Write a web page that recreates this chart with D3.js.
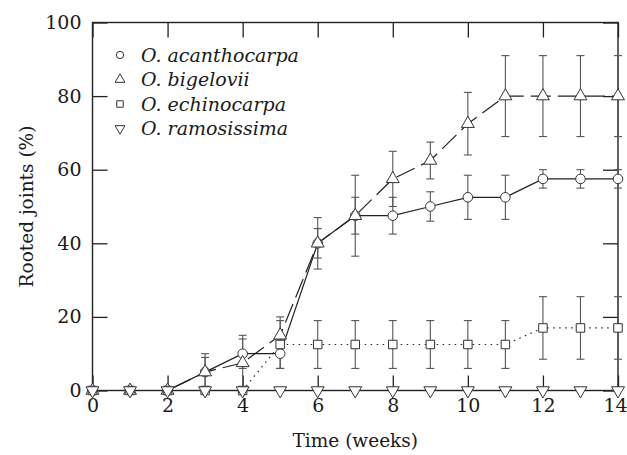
<!DOCTYPE html>
<html>
<head>
<meta charset="utf-8">
<script src="https://cdn.jsdelivr.net/npm/d3@7"></script>
<style>
  body { margin: 0; background: #fff; }
  text { font-family: "DejaVu Serif", serif; fill: #1a1a1a; }
</style>
</head>
<body>
<svg id="drawing_region"></svg>
<script>
// weeks after planting
const weeks = [0,1,2,3,4,5,6,7,8,9,10,11,12,13,14];

const species = ['O. acanthocarpa', 'O. bigelovii', 'O. echinocarpa', 'O. ramosissima'];

// mean rooted joints (%)
const acanthocarpa = [0,0,0,5,10,10,40,47.5,47.5,50,52.5,52.5,57.5,57.5,57.5];
const bigelovii    = [0,0,0,5,7.5,15,40,47.5,57.5,62.5,72.5,80,80,80,80];
const echinocarpa  = [0,0,0,0,0,12.5,12.5,12.5,12.5,12.5,12.5,12.5,17,17,17];
const ramosissima  = [0,0,0,0,0,0,0,0,0,0,0,0,0,0,0];

// half-length of error bars
const acanthocarpa_err = [0,0,0,5,4,4,4,5,5,4,6,6,2.5,2.5,2.5];
const bigelovii_err    = [0,0,0,4,7.5,5,7,11,7.5,5,8.5,11,11,11,11];
const echinocarpa_err  = [0,0,0,0,0,6.5,6.5,6.5,6.5,6.5,6.5,6.5,8.5,8.5,8.5];
const ramosissima_err  = [0,0,0,0,0,0,0,0,0,0,0,0,0,0,0];

const xticks = [0,2,4,6,8,10,12,14];
const yticks = [0,20,40,60,80,100];

class RootPlot {

    constructor( config, series ) {
        this.config = config;
        this.series = series;
        this.init();
    }

    init() {
        let self = this;

        self.svg = d3.select( self.config.parent )
            .attr('width', self.config.width)
            .attr('height', self.config.height);

        self.chart = self.svg.append('g')
            .attr('transform', `translate(${self.config.margin.left}, ${self.config.margin.top})`);

        self.inner_width = self.config.width - self.config.margin.left - self.config.margin.right;
        self.inner_height = self.config.height - self.config.margin.top - self.config.margin.bottom;

        self.xscale = d3.scaleLinear()
            .domain([0, 14])
            .range([0, self.inner_width]);

        self.yscale = d3.scaleLinear()
            .domain([0, 100])
            .range([self.inner_height, 0]);

        const tick = 15;

        // bottom / left with labels, top / right ticks only (all pointing in)
        self.xaxis_group = self.chart.append('g')
            .attr('class', 'axis')
            .attr('transform', `translate(0, ${self.inner_height})`)
            .call( d3.axisBottom(self.xscale).tickValues(xticks).tickSizeInner(-tick).tickSizeOuter(0).tickPadding(8) );

        self.chart.append('g')
            .attr('class', 'axis')
            .call( d3.axisLeft(self.yscale).tickValues(yticks).tickSizeInner(-tick).tickSizeOuter(0).tickPadding(11) );

        self.chart.append('g')
            .attr('class', 'axis notext')
            .call( d3.axisTop(self.xscale).tickValues(xticks).tickSizeInner(-tick).tickSizeOuter(0) );

        self.chart.append('g')
            .attr('class', 'axis notext')
            .attr('transform', `translate(${self.inner_width}, 0)`)
            .call( d3.axisRight(self.yscale).tickValues(yticks).tickSizeInner(-tick).tickSizeOuter(0) );

        self.chart.selectAll('.axis .domain').remove();
        self.chart.selectAll('.axis line').attr('stroke', '#222').attr('stroke-width', 1.3);
        self.chart.selectAll('.axis text')
            .style('font-family', '"DejaVu Serif", serif')
            .style('font-size', '19px')
            .attr('fill', '#1a1a1a');
        self.chart.selectAll('.notext text').remove();

        // last x label sits right at the page edge; nudge it in
        self.xaxis_group.selectAll('.tick text')
            .filter( d => d === 14 )
            .attr('dx', -3);

        self.chart.append('rect')
            .attr('width', self.inner_width)
            .attr('height', self.inner_height)
            .attr('fill', 'none')
            .attr('stroke', '#222')
            .attr('stroke-width', 1.4);

        // X label
        self.svg.append('text')
            .attr('text-anchor', 'middle')
            .attr('x', self.config.margin.left + self.inner_width / 2)
            .attr('y', self.config.height - 8)
            .text(self.config.xlabel)
            .style('font-size', '18.5px');

        // Y label
        self.svg.append('text')
            .attr('text-anchor', 'middle')
            .attr('transform', `rotate(-90)`)
            .attr('x', -self.config.margin.top - self.inner_height / 2)
            .attr('y', 33)
            .text(self.config.ylabel)
            .style('font-size', '18.5px');
    }

    symbolPath( type ) {
        return d3.symbol().type(type).size(72)();
    }

    render() {
        let self = this;

        const line = d3.line()
            .x( (d, i) => self.xscale(weeks[i]) )
            .y( d => self.yscale(d) );

        // error bars
        self.series.forEach( s => {
            const g = self.chart.append('g').attr('stroke', '#555').attr('stroke-width', 1.1);
            const pts = s.values.map( (v, i) => ({ x: weeks[i], y: v, e: s.err[i] }) ).filter( d => d.e > 0 );
            g.selectAll('.bar').data(pts).enter().append('line')
                .attr('x1', d => self.xscale(d.x) ).attr('x2', d => self.xscale(d.x) )
                .attr('y1', d => self.yscale(d.y - d.e) ).attr('y2', d => self.yscale(d.y + d.e) );
            [-1, 1].forEach( sign => {
                g.selectAll('.cap' + sign).data(pts).enter().append('line')
                    .attr('x1', d => self.xscale(d.x) - 4 ).attr('x2', d => self.xscale(d.x) + 4 )
                    .attr('y1', d => self.yscale(d.y + sign * d.e) ).attr('y2', d => self.yscale(d.y + sign * d.e) );
            });
        });

        // lines
        self.series.forEach( s => {
            self.chart.append('path')
                .datum(s.values)
                .attr('d', line)
                .attr('fill', 'none')
                .attr('stroke', '#222')
                .attr('stroke-width', 1.2)
                .attr('stroke-dasharray', s.dash);
        });

        // markers
        self.series.forEach( s => {
            self.chart.selectAll(null)
                .data(s.values)
                .enter()
                .append('path')
                .attr('d', self.symbolPath(s.symbol))
                .attr('transform', (d, i) => `translate(${self.xscale(weeks[i])}, ${self.yscale(d)}) rotate(${s.rot})`)
                .attr('fill', '#fff')
                .attr('stroke', '#333')
                .attr('stroke-width', 1);
        });

        // legend
        const legend = self.svg.append('g');
        self.series.forEach( (s, i) => {
            const y = 55 + i * 24.5;
            legend.append('path')
                .attr('d', d3.symbol().type(s.symbol).size(42)())
                .attr('transform', `translate(120, ${y}) rotate(${s.rot})`)
                .attr('fill', '#fff')
                .attr('stroke', '#333')
                .attr('stroke-width', 1);
            legend.append('text')
                .attr('x', 141)
                .attr('y', y + 6.5)
                .style('font-size', '19px')
                .style('font-style', 'italic')
                .text(s.name);
        });
    }
}

const series = [
    { name: species[0], values: acanthocarpa, err: acanthocarpa_err, symbol: d3.symbolCircle,   rot: 0,   dash: null },
    { name: species[1], values: bigelovii,    err: bigelovii_err,    symbol: d3.symbolTriangle, rot: 0,   dash: '20,7' },
    { name: species[2], values: echinocarpa,  err: echinocarpa_err,  symbol: d3.symbolSquare,   rot: 0,   dash: '1.5,4.5' },
    { name: species[3], values: ramosissima,  err: ramosissima_err,  symbol: d3.symbolTriangle, rot: 180, dash: null }
];

const config = {
    parent: '#drawing_region',
    width: 627,
    height: 455,
    margin: {top: 22.5, right: 9, bottom: 64.5, left: 92.5},
    xlabel: 'Time (weeks)',
    ylabel: 'Rooted joints (%)'
};

const plot = new RootPlot( config, series );
plot.render();
</script>
</body>
</html>
